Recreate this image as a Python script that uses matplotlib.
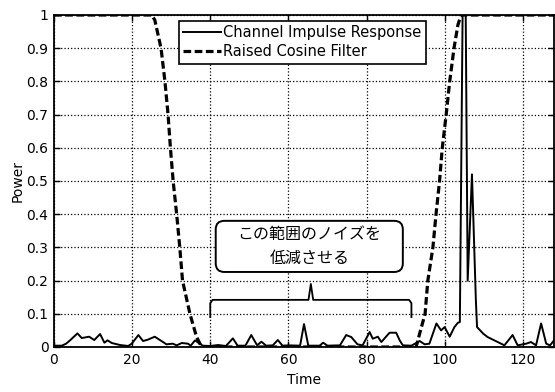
import matplotlib
matplotlib.use("Agg")
import matplotlib.pyplot as plt
from matplotlib.patches import FancyBboxPatch
from matplotlib.ticker import FormatStrFormatter
import numpy as np

# channel impulse response (power vs time)
chan_time = [0, 2, 3.1, 4.1, 6.0, 7.1, 9.0, 10.3, 11.8, 12.9, 13.7, 14.8, 16.9, 19.0,
             19.9, 21.6, 22.8, 24.0, 25.8, 27.9, 28.8, 30.4, 31.4, 32.7, 34.3, 35.0,
             36.1, 37.3, 38.1, 40, 42, 44, 45.8, 47, 49, 50.5, 52, 53.1, 54.3, 56,
             57.3, 58.5, 60, 63, 64.0, 65.1, 68, 68.9, 70, 73.2, 74.8, 76.1, 77.7, 79,
             80.8, 81.6, 82.9, 83.8, 85.9, 87.6, 88.5, 89.3, 91.5, 93.6, 94.9, 96.1,
             97.9, 99.1, 100.0, 101.3, 102.5, 103.4, 103.9, 104.6, 105.4, 105.9, 107.0,
             108.0, 108.3, 109.9, 111.0, 113.6, 115.3, 117.4, 118.7, 120.9, 122.1,
             123.4, 124.7, 126.0, 127, 128]
chan_power = [0.004, 0.004, 0.01, 0.02, 0.041, 0.027, 0.031, 0.021, 0.039, 0.013, 0.02,
              0.012, 0.006, 0.003, 0.01, 0.036, 0.018, 0.022, 0.031, 0.015, 0.008, 0.01,
              0.005, 0.012, 0.01, 0.004, 0.02, 0.01, 0.004, 0.003, 0.006, 0.003, 0.026,
              0.004, 0.004, 0.036, 0.005, 0.016, 0.004, 0.005, 0.021, 0.004, 0.005,
              0.004, 0.069, 0.004, 0.004, 0.013, 0.004, 0.005, 0.036, 0.03, 0.008,
              0.005, 0.045, 0.025, 0.031, 0.015, 0.043, 0.043, 0.02, 0.005, 0.004,
              0.018, 0.008, 0.01, 0.071, 0.05, 0.06, 0.031, 0.06, 0.073, 0.075, 1.0,
              1.0, 0.2, 0.52, 0.14, 0.06, 0.04, 0.03, 0.015, 0.005, 0.036, 0.005, 0.01,
              0.015, 0.005, 0.071, 0.01, 0.005, 0.02]

# raised cosine window
filt_time = [0, 25.0, 25.8, 27.4, 28.4, 29.2, 29.8, 30.5, 31.4, 32.2, 32.9, 34.8, 36.5,
             37.8, 92.7, 93.6, 95.0, 95.7, 97.0, 97.8, 98.7, 99.4, 100.4, 101.3, 102.4,
             103.4, 104.2, 128]
filt_power = [1.0, 1.0, 0.985, 0.9, 0.8, 0.7, 0.6, 0.5, 0.4, 0.3, 0.2, 0.1, 0.03,
              0.0, 0.0, 0.04, 0.1, 0.2, 0.3, 0.4, 0.5, 0.6, 0.7, 0.8, 0.9,
              0.97, 1.0, 1.0]

xticks = [0, 20, 40, 60, 80, 100, 120]
yticks = [0, 0.1, 0.2, 0.3, 0.4, 0.5, 0.6, 0.7, 0.8, 0.9, 1]

# noise range to be suppressed
noise_start = 40
noise_end = 91.5
note = "この範囲のノイズを\n低減させる"

plt.rcParams['font.family'] = 'DejaVu Sans'

fig = plt.figure(figsize=(5.55, 3.92), dpi=100)
ax = fig.add_axes([54/555, 45/392, 500/555, 332/392])

ax.plot(chan_time, chan_power, color='k', lw=1.4, label='Channel Impulse Response')
ax.plot(filt_time, filt_power, color='k', lw=2.3, dashes=(2.4, 1.1),
        label='Raised Cosine Filter')

ax.set_xlim(0, 128)
ax.set_ylim(0, 1)
ax.set_xticks(xticks)
ax.set_yticks(yticks)
ax.yaxis.set_major_formatter(FormatStrFormatter('%g'))
ax.tick_params(direction='in', length=4, width=1, top=True, right=True,
               labelsize=10, pad=4)
ax.grid(True, color='k', linestyle=':', linewidth=0.9)
for s in ax.spines.values():
    s.set_linewidth(1.3)

ax.set_xlabel('Time', fontsize=10, labelpad=5)
ax.set_ylabel('Power', fontsize=10, labelpad=1)

leg = ax.legend(loc='upper left', bbox_to_anchor=(0.25, 0.983), borderaxespad=0,
                fontsize=10.5, handlelength=2.6, handletextpad=0.15,
                labelspacing=0.3, borderpad=0.3, fancybox=False,
                framealpha=1, edgecolor='k')
leg.get_frame().set_linewidth(1.2)

# bracket under the annotation
mid = (noise_start + noise_end) / 2
bx = [noise_start, noise_start, noise_start + 0.6, mid - 0.6, mid, mid + 0.6,
      noise_end - 0.6, noise_end, noise_end]
by = [0.09, 0.132, 0.142, 0.142, 0.19, 0.142, 0.142, 0.132, 0.09]
ax.plot(bx, by, color='k', lw=1.3)

# rounded note box
px_x = 500 / 128
px_y = 332
box = FancyBboxPatch((41.4, 0.226), 47.9, 0.154,
                     boxstyle='round,pad=0,rounding_size=2.2',
                     mutation_aspect=px_x / px_y,
                     facecolor='white', edgecolor='k', lw=1.4, zorder=5)
ax.add_patch(box)
ax.text(41.4 + 47.9 / 2, 0.226 + 0.154 / 2, note, ha='center', va='center',
        fontsize=11.5, linespacing=1.5, family=['Noto Sans CJK JP', 'DejaVu Sans'],
        zorder=6)

fig.savefig('out.png', dpi=100)
